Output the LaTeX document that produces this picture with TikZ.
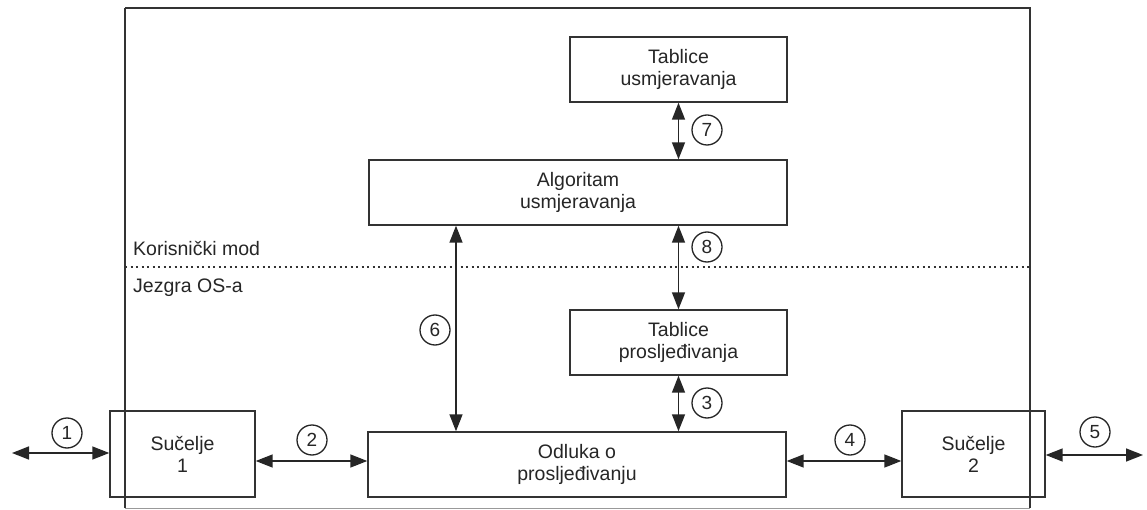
\documentclass[tikz,border=0pt]{standalone}
\usepackage{fontspec}
\setmainfont{Liberation Sans}
\usetikzlibrary{arrows.meta,calc}
\begin{document}
\begin{tikzpicture}[x=1pt,y=-1pt,
  box/.style={draw=black!80,line width=1.4pt,rectangle,inner sep=0pt,align=center,
    font=\fontsize{19.5}{22}\selectfont,text=black!85},
  num/.style={draw=black!85,line width=1.3pt,circle,minimum size=30pt,inner sep=0pt,
    font=\fontsize{19}{22}\selectfont,text=black!85},
  conn/.style={line width=1.5pt,draw=black!85,{Triangle[length=17pt,width=13pt]}-{Triangle[length=17pt,width=13pt]}},
  lbl/.style={anchor=base west,inner sep=0pt,font=\fontsize{19.5}{22}\selectfont,text=black!85}]
\useasboundingbox (0,0) rectangle (1147,510);
\fill[white] (0,0) rectangle (1147,510);
% outer frame
\draw[line width=1.4pt,black!80] (125,8) -- (1030,8) -- (1030,508);
\draw[line width=1.4pt,black!80] (125,8) -- (125,508);
\draw[line width=1pt,black!40] (125,508) -- (1030,508);
% dotted separator
\draw[line width=1.7pt,black!80,dash pattern=on 2pt off 3.5pt] (125,267) -- (1030,267);
\node[lbl] (km) at (133,256) {Korisnički mod};
\node[lbl] (jz) at (133,292) {Jezgra OS-a};
% boxes
\node[box,minimum width=217pt,minimum height=65pt] (tu) at (678.5,69.5) {Tablice\\usmjeravanja};
\node[box,minimum width=418pt,minimum height=65pt] (alg) at (578,192.5) {Algoritam\\usmjeravanja};
\node[box,minimum width=217pt,minimum height=65pt] (tp) at (678.5,342.5) {Tablice\\prosljeđivanja};
\node[box,minimum width=418pt,minimum height=65pt] (od) at (577,464.5) {Odluka o\\prosljeđivanju};
\node[box,minimum width=145pt,minimum height=86pt] (s1) at (182.5,454) {Sučelje\\1};
\node[box,minimum width=143pt,minimum height=86pt] (s2) at (973.5,454) {Sučelje\\2};
% coordinates for connectors
\coordinate (e1) at (12,453);
\coordinate (e5) at (1143,455);
\coordinate (y2) at (0,461);
\coordinate (x6) at (456,0);
% connectors
\draw[conn] (e1) -- (s1.west |- e1);
\draw[conn] (s1.east |- y2) -- (od.west |- y2);
\draw[conn] (od.east |- y2) -- (s2.west |- y2);
\draw[conn] (s2.east |- e5) -- (e5);
\draw[conn] (tu.south) -- (tu.south |- alg.north);
\draw[conn] (alg.south -| tp.north) -- (tp.north);
\draw[conn] (tp.south) -- (tp.south |- od.north);
\draw[conn] (x6 |- alg.south) -- (x6 |- od.north);
% number circles
\node[num] (n1) at (67,433) {1};
\node[num] (n2) at (312,440) {2};
\node[num] (n3) at (707,403) {3};
\node[num] (n4) at (850,440) {4};
\node[num] (n5) at (1095,432) {5};
\node[num] (n6) at (435,330) {6};
\node[num] (n7) at (707,130) {7};
\node[num] (n8) at (707,247) {8};
\end{tikzpicture}
\end{document}
